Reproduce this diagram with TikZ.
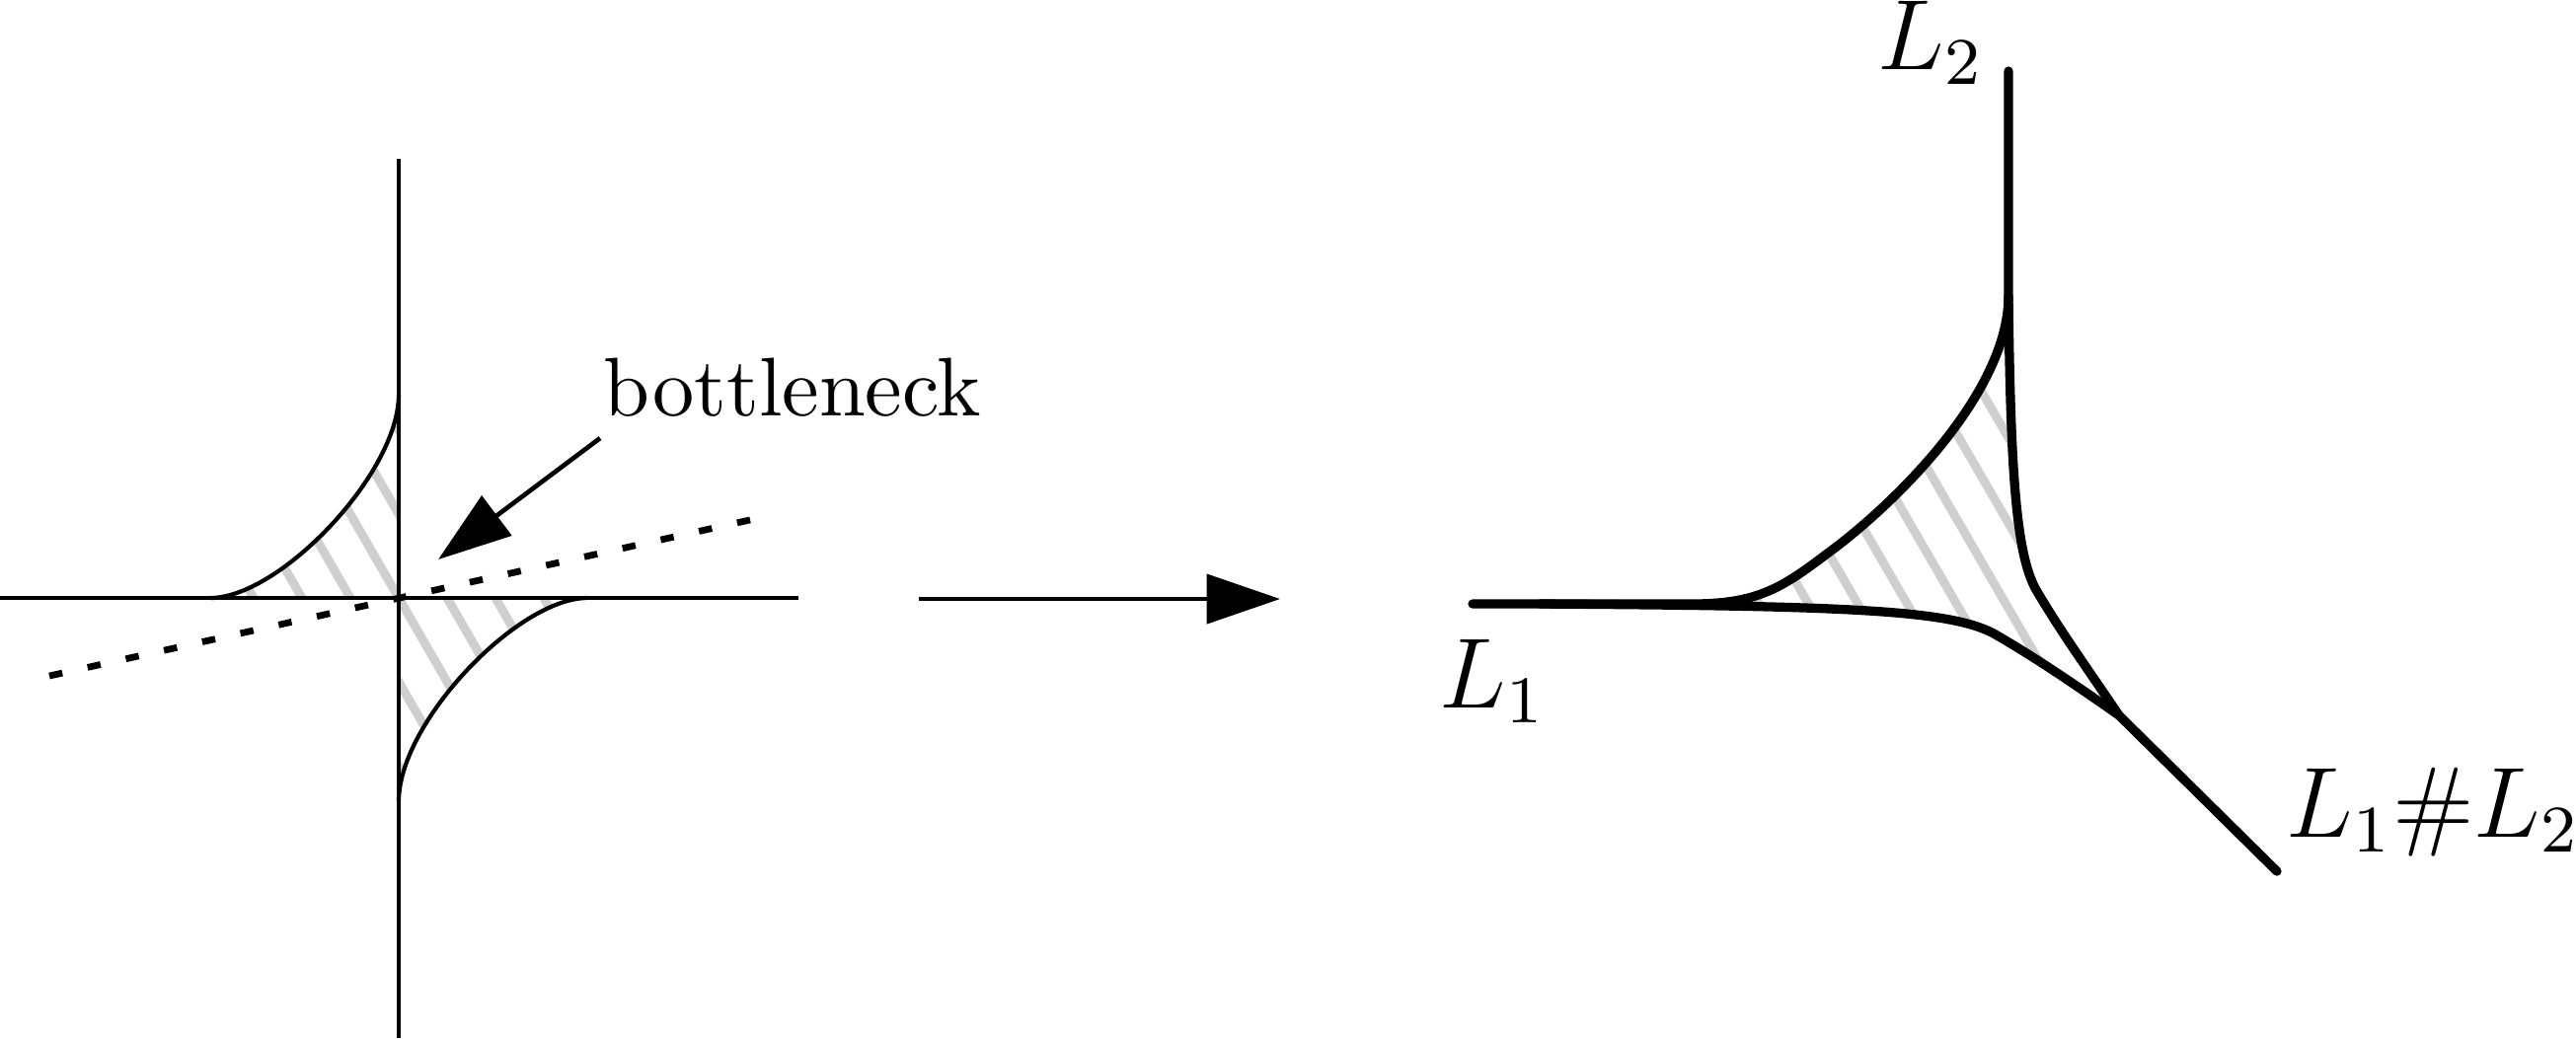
\documentclass[tikz,border=0pt]{standalone}
\usetikzlibrary{arrows.meta}
\begin{document}
\begin{tikzpicture}[x=0.1185pt,y=-0.1185pt,
  thinline/.style={line width=0.5pt},
  thickline/.style={line width=1.1pt, line cap=round, line join=round},
  hatch/.style={line width=1.05pt, draw=black!19},
  bigarrow/.style={line width=0.55pt, -{Triangle[length=8.8pt,width=5.9pt]}},
  dashline/.style={line width=0.8pt, dash pattern=on 1.6pt off 3.1pt},
  lbl/.style={font=\large, inner sep=0pt}]
\useasboundingbox (0,0) rectangle (2610,1052);

% ---------------- left figure ----------------
\begin{scope}
  \clip (213,606) .. controls (283,606) and (404,480) .. (404,400) -- (404,606) -- cycle
        (595,606) .. controls (525,606) and (404,732) .. (404,812) -- (404,606) -- cycle;
  \foreach \k in {-5,...,5} {
    \draw[hatch] ({404+49*\k-131},379) -- ({404+49*\k+131},833);
  }
\end{scope}

\coordinate (hl) at (0,606);
\coordinate (hr) at (809,606);
\coordinate (vt) at (404,161);
\coordinate (vb) at (404,1052);
\draw[thinline] (hl) -- (hr);
\draw[thinline] (vt) -- (vb);
\draw[thinline] (213,606) .. controls (283,606) and (404,480) .. (404,400);
\draw[thinline] (595,606) .. controls (525,606) and (404,732) .. (404,812);

\coordinate (dl) at (50,685);
\coordinate (dr) at (764,526);
\draw[dashline] (dl) -- (dr);

\node[anchor=base] (bn) at (803,421) {bottleneck};
\coordinate (btail) at (608,444);
\coordinate (btip) at (444,567);
\draw[bigarrow] (btail) -- (btip);

% ---------------- middle arrow ----------------
\coordinate (ma) at (931,607);
\coordinate (mb) at (1297,607);
\draw[bigarrow] (ma) -- (mb);

% ---------------- right figure ----------------
\begin{scope}
  \clip (1715,612) .. controls (1780,612) and (1805,596) .. (1850,562)
        .. controls (1915,515) and (2035,400) .. (2035,300)
        .. controls (2037,480) and (2043,560) .. (2062,596)
        .. controls (2085,636) and (2120,685) .. (2147,725)
        .. controls (2100,692) and (2060,665) .. (2020,642)
        .. controls (1975,618) and (1870,614) .. (1560,612) -- cycle;
  \foreach \k in {-2,...,9} {
    \draw[hatch] ({1783+50*\k-187},290) -- ({1783+50*\k+74},741);
  }
\end{scope}

\coordinate (l1end) at (1492,612);
\coordinate (l2end) at (2035,72);
\coordinate (P) at (2147,725);
\coordinate (E) at (2307,883);

\draw[thickline] (l1end) -- (1715,612)
   .. controls (1780,612) and (1805,596) .. (1850,562)
   .. controls (1915,515) and (2035,400) .. (2035,300) -- (l2end);
\draw[thickline] (2035,300) .. controls (2037,480) and (2043,560) .. (2062,596)
   .. controls (2085,636) and (2120,685) .. (P) -- (E);
\draw[thickline] (1560,612) .. controls (1870,614) and (1975,618) .. (2020,642)
   .. controls (2060,665) and (2100,692) .. (P);

\node[lbl, anchor=base west] (L1) at (1457,717) {$L_1$};
\node[lbl, anchor=base west] (L2) at (1901,70) {$L_2$};
\node[lbl, anchor=base west] (L12) at (2315,848) {$L_1\#L_2$};
\end{tikzpicture}
\end{document}
